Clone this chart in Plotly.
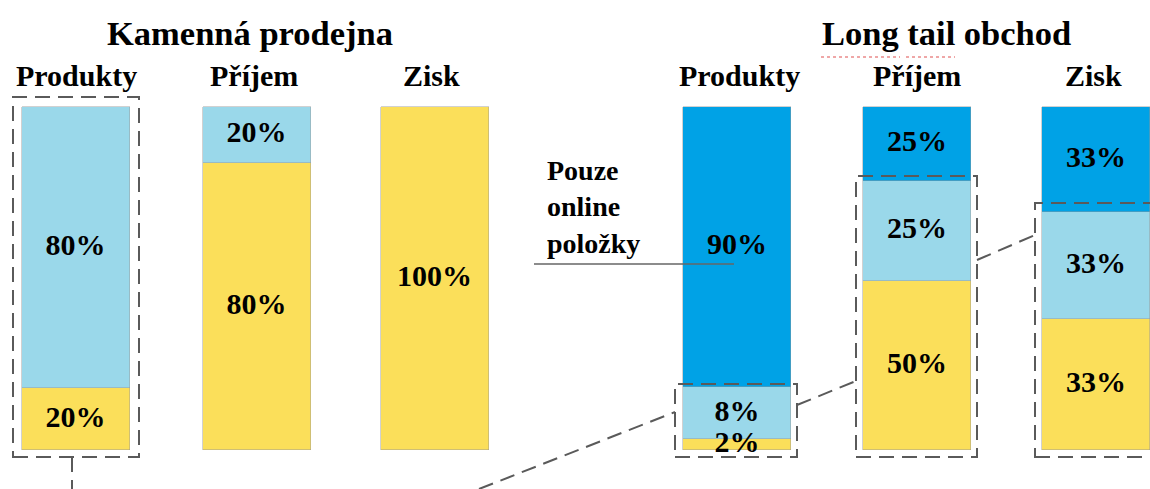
import plotly.graph_objects as go

# ---- data ----
groups = ["Kamenná prodejna", "Long tail obchod"]
categories = ["Produkty", "Příjem", "Zisk", "Produkty", "Příjem", "Zisk"]
# segment heights (share of bar height, %)
yellow_h = [18.0, 83.5, 100.0, 3.3, 49.2, 38.1]
light_h = [82.0, 16.5, None, 14.9, 29.2, 31.1]
dark_h = [None, None, None, 81.8, 21.6, 30.8]
# printed labels
yellow_lbl = ["20%", "80%", "100%", "2%", "50%", "33%"]
light_lbl = ["80%", "20%", "", "8%", "25%", "33%"]
dark_lbl = ["", "", "", "90%", "25%", "33%"]
note_text = "Pouze<br>online<br>položky"

# ---- layout helpers ----
W, H = 1150, 489
xpos = [75.5, 256.5, 434.5, 737, 917, 1096]
bar_w = 108
Y0_PX, Y100_PX = 450, 106.5
scale = (Y0_PX - Y100_PX) / 100.0
y_hi = Y0_PX / scale
y_lo = -(H - Y0_PX) / scale

YELLOW = "#FBDF5A"
LIGHT = "#9AD8EA"
DARK = "#00A2E6"
FONT = "Liberation Serif"


def px(x, y):
    return x / W, 1 - y / H


fig = go.Figure()
edge = dict(color="rgba(150,150,150,0.55)", width=0.8)
for vals, col in [(yellow_h, YELLOW), (light_h, LIGHT), (dark_h, DARK)]:
    fig.add_trace(go.Bar(x=xpos, y=vals, width=bar_w, marker=dict(color=col, line=edge),
                         hoverinfo="skip", showlegend=False))

# segment labels at the middle of each segment
def mids(*layers):
    out = []
    base = [0.0] * len(xpos)
    for h in layers:
        m = []
        for i, v in enumerate(h):
            v = v or 0.0
            m.append(base[i] + v / 2)
            base[i] += v
        out.append(m)
    return out

ym_y, ym_l, ym_d = mids(yellow_h, light_h, dark_h)
for ys, labels in [(ym_y, yellow_lbl), (ym_l, light_lbl), (ym_d, dark_lbl)]:
    fig.add_trace(go.Scatter(x=xpos, y=ys, mode="text", text=[f"<b>{t}</b>" if t else "" for t in labels],
                             textfont=dict(family=FONT, size=30, color="black"),
                             hoverinfo="skip", showlegend=False))

ann = []
# group titles
for g, gx in zip(groups, [250, 946]):
    ann.append(dict(x=gx, y=33, text=f"<b>{g}</b>"))
# category titles
for c, cx in zip(categories, [77, 254, 432, 740, 917, 1093]):
    ann.append(dict(x=cx, y=75, text=f"<b>{c}</b>", size=30))

annotations = []
for a in ann:
    xp, yp = px(a["x"], a["y"])
    annotations.append(dict(x=xp, y=yp, xref="paper", yref="paper", text=a["text"], showarrow=False,
                            xanchor="center", yanchor="middle",
                            font=dict(family=FONT, size=a.get("size", 34.5), color="black")))
xp, yp = px(545, 207)
annotations.append(dict(x=xp, y=yp, xref="paper", yref="paper", text=f"<b>{note_text}</b>", showarrow=False,
                        xanchor="left", yanchor="middle", align="left",
                        font=dict(family=FONT, size=28, color="black")))

shapes = []
DASH = "15px,8px"
LC = "#5a5a5a"


def rect(x0, y0, x1, y1):
    a = px(x0, y1)
    b = px(x1, y0)
    shapes.append(dict(type="rect", xref="paper", yref="paper", x0=a[0], y0=a[1], x1=b[0], y1=b[1],
                       line=dict(color=LC, width=2, dash=DASH), fillcolor="rgba(0,0,0,0)"))


def line(x0, y0, x1, y1, dash=DASH, color=LC, width=2):
    a = px(x0, y0)
    b = px(x1, y1)
    shapes.append(dict(type="line", xref="paper", yref="paper", x0=a[0], y0=a[1], x1=b[0], y1=b[1],
                       line=dict(color=color, width=width, dash=dash)))


rect(13, 97, 139, 457)
rect(675, 384, 797, 457)
rect(856, 176, 977, 457)
rect(1035, 203, 1165, 457)
line(72, 457, 72, 492)
line(479, 489, 675, 412)
line(797, 405, 856, 381)
line(977, 260, 1035, 235)
line(534, 264, 734, 264, dash="solid", color="#666666", width=1.5)
# spell-check squiggles
line(821, 57, 900, 57, dash="dot", color="#e05050", width=1.2)
line(906, 57, 955, 57, dash="dot", color="#e05050", width=1.2)

fig.update_layout(
    width=W, height=H, margin=dict(l=0, r=0, t=0, b=0),
    paper_bgcolor="white", plot_bgcolor="white",
    barmode="stack", bargap=0,
    xaxis=dict(range=[0, W], visible=False, fixedrange=True),
    yaxis=dict(range=[y_lo, y_hi], visible=False, fixedrange=True),
    annotations=annotations, shapes=shapes, showlegend=False,
)
fig.write_html("out.html")
